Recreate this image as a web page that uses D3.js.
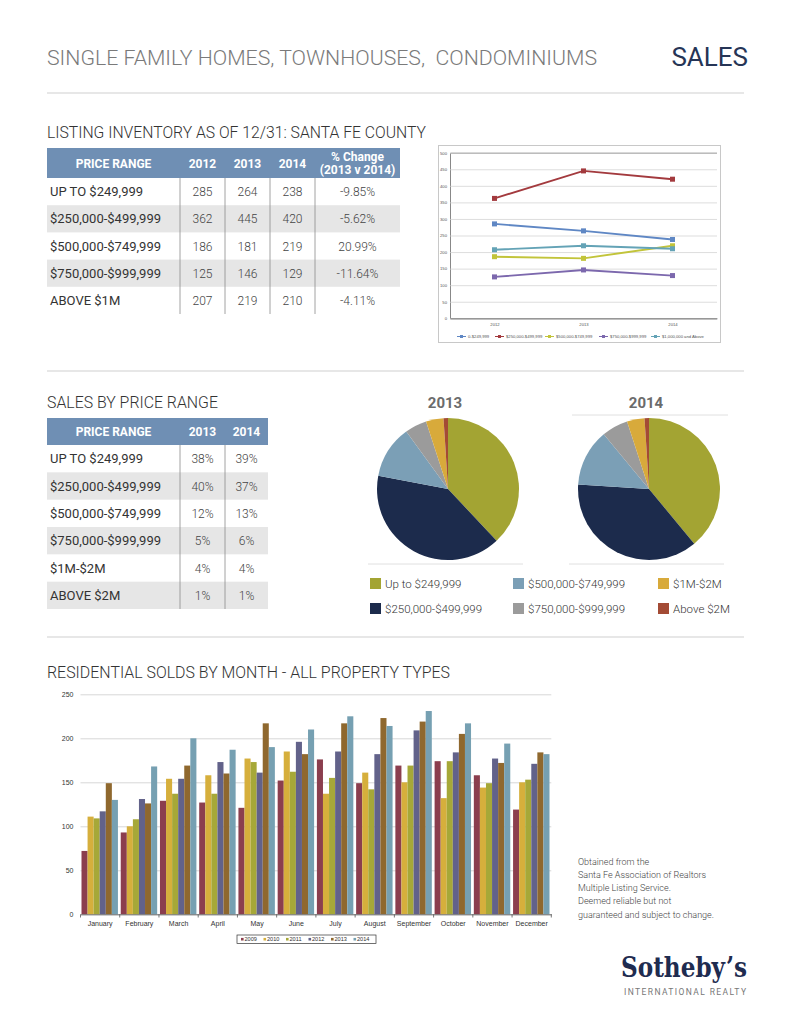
<!DOCTYPE html>
<html>
<head>
<meta charset="utf-8">
<script src="https://cdn.jsdelivr.net/npm/d3@7"></script>
<style>
  body { margin: 0; background: #fff; }
  svg { display: block; }
</style>
</head>
<body>
<script>
// listing inventory table + line chart
var invRanges = ['UP TO $249,999', '$250,000-$499,999', '$500,000-$749,999', '$750,000-$999,999', 'ABOVE $1M'];
var inv2012 = [285, 362, 186, 125, 207];
var inv2013 = [264, 445, 181, 146, 219];
var inv2014 = [238, 420, 219, 129, 210];
var invChange = ['-9.85%', '-5.62%', '20.99%', '-11.64%', '-4.11%'];
var invYears = ['2012', '2013', '2014'];
var lineNames = ['0-$249,999', '$250,000-$499,999', '$500,000-$749,999', '$750,000-$999,999', '$1,000,000 and Above'];
var lineTicks = [0, 50, 100, 150, 200, 250, 300, 350, 400, 450, 500];

// sales by price range
var salesRanges = ['UP TO $249,999', '$250,000-$499,999', '$500,000-$749,999', '$750,000-$999,999', '$1M-$2M', 'ABOVE $2M'];
var pieLabels = ['Up to $249,999', '$250,000-$499,999', '$500,000-$749,999', '$750,000-$999,999', '$1M-$2M', 'Above $2M'];
var sales2013 = [38, 40, 12, 5, 4, 1];
var sales2014 = [39, 37, 13, 6, 4, 1];

// residential solds by month
var months = ['January', 'February', 'March', 'April', 'May', 'June', 'July', 'August', 'September', 'October', 'November', 'December'];
var barYears = ['2009', '2010', '2011', '2012', '2013', '2014'];
var sold2009 = [72, 93, 129, 127, 121, 152, 176, 149, 169, 174, 158, 119];
var sold2010 = [111, 100, 154, 158, 177, 185, 137, 161, 150, 132, 144, 150];
var sold2011 = [109, 108, 137, 137, 173, 162, 155, 142, 169, 174, 149, 153];
var sold2012 = [117, 131, 154, 173, 161, 196, 185, 182, 209, 184, 177, 171];
var sold2013 = [149, 126, 169, 160, 217, 182, 217, 223, 219, 205, 172, 184];
var sold2014 = [130, 168, 200, 187, 190, 210, 225, 214, 231, 217, 194, 182];
var barTicks = [0, 50, 100, 150, 200, 250];

var footNote = ['Obtained from the', 'Santa Fe Association of Realtors', 'Multiple Listing Service.', 'Deemed reliable but not', 'guaranteed and subject to change.'];

var FONT = 'Roboto, "Liberation Sans", sans-serif';
var XL = '"Liberation Sans", Arial, sans-serif';

var svg = d3.select('body').append('svg')
  .attr('width', 791)
  .attr('height', 1024);

// ---- page header ----
svg.append('text')
  .attr('x', 47).attr('y', 65)
  .attr('font-family', FONT).attr('font-weight', 300)
  .attr('font-size', 21).attr('fill', '#7a7a7a')
  .attr('textLength', 550).attr('lengthAdjust', 'spacingAndGlyphs')
  .style('white-space', 'pre')
  .text('SINGLE FAMILY HOMES, TOWNHOUSES,  CONDOMINIUMS');

svg.append('text')
  .attr('x', 748).attr('y', 66)
  .attr('text-anchor', 'end')
  .attr('font-family', FONT).attr('font-weight', 400)
  .attr('font-size', 26).attr('fill', '#263556')
  .text('SALES');

[93, 371, 637].forEach(function(y) {
  svg.append('line')
    .attr('x1', 47).attr('x2', 744)
    .attr('y1', y).attr('y2', y)
    .attr('stroke', '#cfcfcf').attr('stroke-width', 1);
});

function sectionTitle(txt, y, len) {
  svg.append('text')
    .attr('x', 47).attr('y', y)
    .attr('font-family', FONT).attr('font-weight', 300)
    .attr('font-size', 17).attr('fill', '#333')
    .attr('textLength', len).attr('lengthAdjust', 'spacingAndGlyphs')
    .text(txt);
}
sectionTitle('LISTING INVENTORY AS OF 12/31: SANTA FE COUNTY', 138, 379);
sectionTitle('SALES BY PRICE RANGE', 408, 171);
sectionTitle('RESIDENTIAL SOLDS BY MONTH - ALL PROPERTY TYPES', 678, 403);

// ---- generic table ----
function drawTable(opt) {
  var g = svg.append('g');
  var x0 = opt.cols[0], x1 = opt.cols[opt.cols.length - 1];
  g.append('rect')
    .attr('x', x0).attr('y', opt.top)
    .attr('width', x1 - x0).attr('height', opt.headH)
    .attr('fill', '#6f8fb4');

  var rows = d3.scaleBand()
    .domain(d3.range(opt.rows.length))
    .range([opt.top + opt.headH, opt.bottom]);

  g.selectAll('.stripe')
    .data(d3.range(opt.rows.length).filter(function(i) { return i % 2 == 1; }))
    .enter().append('rect')
      .attr('x', x0).attr('y', function(i) { return rows(i); })
      .attr('width', x1 - x0).attr('height', rows.bandwidth())
      .attr('fill', '#e6e6e6');

  g.selectAll('.vline')
    .data(opt.cols.slice(1, -1))
    .enter().append('line')
      .attr('x1', function(d) { return d; }).attr('x2', function(d) { return d; })
      .attr('y1', opt.top + opt.headH).attr('y2', opt.bottom)
      .attr('stroke', '#8a8a8a').attr('stroke-width', 0.8);

  // header labels
  opt.head.forEach(function(h, j) {
    var cx = (opt.cols[j] + opt.cols[j + 1]) / 2;
    var lines = h.split('\n');
    lines.forEach(function(l, k) {
      g.append('text')
        .attr('x', cx)
        .attr('y', opt.top + opt.headH / 2 + 4.5 + (k - (lines.length - 1) / 2) * 13)
        .attr('text-anchor', 'middle')
        .attr('font-family', FONT).attr('font-weight', 700)
        .attr('font-size', 12).attr('fill', '#fff')
        .text(l);
    });
  });

  opt.rows.forEach(function(r, i) {
    var cy = rows(i) + rows.bandwidth() / 2 + 4.5;
    r.forEach(function(v, j) {
      g.append('text')
        .attr('x', j == 0 ? x0 + 3 : (opt.cols[j] + opt.cols[j + 1]) / 2)
        .attr('y', cy)
        .attr('text-anchor', j == 0 ? 'start' : 'middle')
        .attr('font-family', FONT).attr('font-weight', j == 0 ? 400 : 300)
        .attr('font-size', j == 0 ? 13 : 12)
        .attr('fill', j == 0 ? '#333' : '#444')
        .text(v);
    });
  });
}

drawTable({
  cols: [47, 180, 225, 270, 315, 400],
  top: 148, headH: 30, bottom: 314,
  head: ['PRICE RANGE', '2012', '2013', '2014', '% Change\n(2013 v 2014)'],
  rows: invRanges.map(function(r, i) { return [r, inv2012[i], inv2013[i], inv2014[i], invChange[i]]; })
});

drawTable({
  cols: [47, 180, 225, 268],
  top: 418, headH: 27, bottom: 609,
  head: ['PRICE RANGE', '2013', '2014'],
  rows: salesRanges.map(function(r, i) { return [r, sales2013[i] + '%', sales2014[i] + '%']; })
});

// ---- line chart (listing inventory) ----
var lineColors = ['#5f87c4', '#a33a3e', '#c2c43a', '#7c68ad', '#64a3b6'];
var lineSeries = lineNames.map(function(n, i) {
  return { name: n, values: [inv2012[i], inv2013[i], inv2014[i]], color: lineColors[i] };
});

var lc = svg.append('g');
lc.append('rect')
  .attr('x', 438.5).attr('y', 145.5)
  .attr('width', 282).attr('height', 197)
  .attr('fill', '#fff').attr('stroke', '#c8c8c8').attr('stroke-width', 1);

var ly = d3.scaleLinear().domain([0, 500]).range([318.3, 152.7]);
var lx = d3.scalePoint().domain(invYears).range([450, 717]).padding(0.5);

lc.append('g')
  .attr('transform', 'translate(450,0)')
  .call(d3.axisLeft(ly).tickValues(lineTicks).tickSize(-267).tickPadding(3))
  .call(function(g) {
    g.select('.domain').attr('stroke', '#888');
    g.selectAll('.tick line').attr('stroke', '#cfcfcf').attr('stroke-width', 0.7);
    g.selectAll('.tick text').attr('font-family', XL).attr('font-size', 4.2).attr('fill', '#555');
  });

lc.append('g')
  .attr('transform', 'translate(0,318.3)')
  .call(d3.axisBottom(lx).tickSize(0).tickPadding(5))
  .call(function(g) {
    g.select('.domain').attr('stroke', '#888');
    g.selectAll('.tick text').attr('font-family', XL).attr('font-size', 4.2).attr('fill', '#555');
  });

var lineGen = d3.line()
  .x(function(d, i) { return lx(invYears[i]); })
  .y(function(d) { return ly(d); });

var ser = lc.selectAll('.series')
  .data(lineSeries)
  .enter().append('g');

ser.append('path')
  .attr('d', function(d) { return lineGen(d.values); })
  .attr('fill', 'none')
  .attr('stroke', function(d) { return d.color; })
  .attr('stroke-width', 1.9);

ser.selectAll('rect')
  .data(function(d) { return d.values.map(function(v, i) { return { v: v, i: i, c: d.color }; }); })
  .enter().append('rect')
    .attr('x', function(d) { return lx(invYears[d.i]) - 2.5; })
    .attr('y', function(d) { return ly(d.v) - 2.5; })
    .attr('width', 5).attr('height', 5)
    .attr('fill', function(d) { return d.c; });

var legX = [457, 495, 545, 599, 651];
var leg = lc.selectAll('.leg')
  .data(lineSeries)
  .enter().append('g')
    .attr('transform', function(d, i) { return 'translate(' + legX[i] + ',336.5)'; });
leg.append('line')
  .attr('x1', 0).attr('x2', 9)
  .attr('stroke', function(d) { return d.color; }).attr('stroke-width', 1);
leg.append('rect')
  .attr('x', 3).attr('y', -1.5).attr('width', 3).attr('height', 3)
  .attr('fill', function(d) { return d.color; });
leg.append('text')
  .attr('x', 11).attr('y', 1.5)
  .attr('font-family', XL).attr('font-size', 4.2).attr('fill', '#555')
  .text(function(d) { return d.name; });

// ---- pies ----
var pieColors = ['#a3a433', '#1c2b4c', '#7b9fb6', '#9b9b9b', '#d8aa3b', '#a34b35'];
var pie = d3.pie().sort(null).value(function(d) { return d; });
var arc = d3.arc().innerRadius(0).outerRadius(71);

function drawPie(vals, cx, title) {
  var g = svg.append('g').attr('transform', 'translate(' + cx + ',489)');
  g.selectAll('path')
    .data(pie(vals))
    .enter().append('path')
      .attr('d', arc)
      .attr('fill', function(d, i) { return pieColors[i]; });
  svg.append('text')
    .attr('x', cx - 3).attr('y', 408)
    .attr('text-anchor', 'middle')
    .attr('font-family', FONT).attr('font-weight', 700)
    .attr('font-size', 15).attr('fill', '#6b6b6b')
    .text(title);
  svg.append('line')
    .attr('x1', cx - 80).attr('x2', cx + 75)
    .attr('y1', 564).attr('y2', 564)
    .attr('stroke', '#d8d8d8').attr('stroke-width', 0.8);
}
drawPie(sales2013, 448, '2013');
drawPie(sales2014, 649, '2014');
svg.append('line')
  .attr('x1', 572).attr('x2', 728)
  .attr('y1', 415).attr('y2', 415)
  .attr('stroke', '#d8d8d8').attr('stroke-width', 0.8);

var pieLegX = [370, 513, 658];
var pl = svg.selectAll('.pleg')
  .data(pieLabels)
  .enter().append('g')
    .attr('transform', function(d, i) {
      return 'translate(' + pieLegX[Math.floor(i / 2)] + ',' + (578 + (i % 2) * 25) + ')';
    });
pl.append('rect')
  .attr('width', 11).attr('height', 11)
  .attr('fill', function(d, i) { return pieColors[i]; });
pl.append('text')
  .attr('x', 15).attr('y', 10)
  .attr('font-family', FONT).attr('font-weight', 300)
  .attr('font-size', 11.5).attr('fill', '#333')
  .text(function(d) { return d; });

// ---- grouped bar chart ----
var barColors = ['#8b3e4e', '#d6af3c', '#a6a838', '#62628a', '#8f682e', '#76a0b2'];
var soldSeries = [sold2009, sold2010, sold2011, sold2012, sold2013, sold2014];

var bx0 = d3.scaleBand().domain(months).range([80.5, 551.3]);
var bx1 = d3.scaleBand().domain(barYears).range([1, bx0.bandwidth() - 1.8]);
var by = d3.scaleLinear().domain([0, 250]).range([914.3, 694.3]);

var bc = svg.append('g');
bc.append('g')
  .attr('transform', 'translate(80.5,0)')
  .call(d3.axisLeft(by).tickValues(barTicks).tickSize(-470.8).tickPadding(7))
  .call(function(g) {
    g.select('.domain').remove();
    g.selectAll('.tick line').attr('stroke', '#cdcdcd').attr('stroke-width', 0.8);
    g.selectAll('.tick text').attr('font-family', XL).attr('font-size', 7).attr('fill', '#333');
  });

bc.selectAll('.month')
  .data(months)
  .enter().append('g')
    .attr('transform', function(m) { return 'translate(' + bx0(m) + ',0)'; })
  .selectAll('rect')
    .data(function(m, mi) { return barYears.map(function(y, yi) { return { y: y, v: soldSeries[yi][mi], c: barColors[yi] }; }); })
    .enter().append('rect')
      .attr('x', function(d) { return bx1(d.y); })
      .attr('y', function(d) { return by(d.v); })
      .attr('width', bx1.bandwidth())
      .attr('height', function(d) { return by(0) - by(d.v); })
      .attr('fill', function(d) { return d.c; });

bc.append('g')
  .attr('transform', 'translate(0,914.3)')
  .call(d3.axisBottom(bx0).tickSize(0).tickPadding(7))
  .call(function(g) {
    g.select('.domain').attr('stroke', '#555').attr('stroke-width', 0.8);
    g.selectAll('.tick text').attr('font-family', XL).attr('font-size', 7).attr('fill', '#333');
  });

// month separator ticks
bc.selectAll('.sep')
  .data(months.map(function(m) { return bx0(m); }).concat([551.3]))
  .enter().append('line')
    .attr('x1', function(d) { return d; }).attr('x2', function(d) { return d; })
    .attr('y1', 914.3).attr('y2', 917.5)
    .attr('stroke', '#555').attr('stroke-width', 0.8);

// bar legend
bc.append('rect')
  .attr('x', 237).attr('y', 935)
  .attr('width', 139).attr('height', 8.5)
  .attr('fill', '#fff').attr('stroke', '#333').attr('stroke-width', 0.7);
var bl = bc.selectAll('.bleg')
  .data(barYears)
  .enter().append('g')
    .attr('transform', function(d, i) { return 'translate(' + (241 + i * 22.5) + ',939.2)'; });
bl.append('rect')
  .attr('x', 0).attr('y', -1.3).attr('width', 2.6).attr('height', 2.6)
  .attr('fill', function(d, i) { return barColors[i]; });
bl.append('text')
  .attr('x', 3.5).attr('y', 2)
  .attr('font-family', XL).attr('font-size', 5.6).attr('fill', '#333')
  .text(function(d) { return d; });

// ---- footnote + logo ----
svg.selectAll('.foot')
  .data(footNote)
  .enter().append('text')
    .attr('x', 578)
    .attr('y', function(d, i) { return 864.5 + i * 13.3; })
    .attr('font-family', FONT).attr('font-weight', 300)
    .attr('font-size', 9).attr('fill', '#444')
    .text(function(d) { return d; });

svg.append('text')
  .attr('x', 621).attr('y', 977)
  .attr('font-family', '"DejaVu Serif", "Liberation Serif", serif').attr('font-weight', 700)
  .attr('font-size', 28).attr('fill', '#1f2c50')
  .attr('textLength', 126).attr('lengthAdjust', 'spacingAndGlyphs')
  .text('Sotheby\u2019s');

svg.append('text')
  .attr('x', 624).attr('y', 994.5)
  .attr('font-family', FONT).attr('font-weight', 400)
  .attr('font-size', 8.5).attr('fill', '#777')
  .attr('textLength', 122).attr('lengthAdjust', 'spacing')
  .text('INTERNATIONAL REALTY');
</script>
</body>
</html>
